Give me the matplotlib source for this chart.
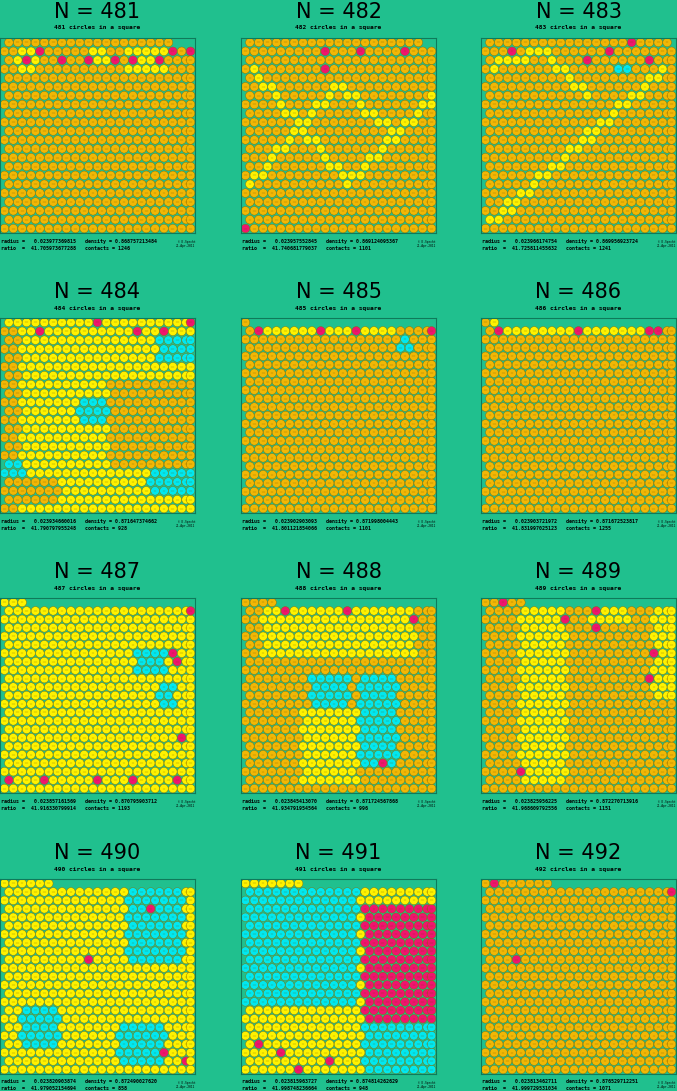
import matplotlib
matplotlib.use("Agg")
import matplotlib.pyplot as plt
from matplotlib.patches import Circle
import numpy as np

BG = '#20c08e'
ORANGE = '#f2b705'
YELLOW = '#fff200'
CYAN = '#00e8f0'
MAGENTA = '#f0146e'

counts = [481, 482, 483, 484, 485, 486, 487, 488, 489, 490, 491, 492]
radius = ['0.023977369815', '0.023957552845', '0.023966174754', '0.023934660016',
          '0.023902903093', '0.023903721972', '0.023857161569', '0.023845413070',
          '0.023825956225', '0.023820903874', '0.023815963727', '0.023813462711']
density = ['0.868757213484', '0.869124095367', '0.869956923724', '0.871647374662',
           '0.871998004443', '0.871672523817', '0.870795903712', '0.871724567868',
           '0.872270713916', '0.872490027620', '0.874814262629', '0.876529712251']
ratio = ['41.705973677288', '41.740681779037', '41.725811455632', '41.790797955248',
         '41.801121854066', '41.831997025123', '41.916330799914', '41.934791954564',
         '41.968609792556', '41.979052154694', '41.998748236664', '41.999729531034']
contacts = [1246, 1101, 1241, 928, 1101, 1255, 1193, 996, 1151, 858, 948, 1071]

# base colour and rough colour regions (x0, x1, y0, y1 in unit square, y up)
base = [ORANGE, ORANGE, ORANGE, YELLOW, ORANGE, ORANGE, YELLOW, ORANGE, ORANGE, YELLOW, YELLOW, ORANGE]
regions = [
    [(YELLOW, 0.45, 0.55, 0.86, 0.94), (YELLOW, 0.65, 0.85, 0.84, 0.95), (YELLOW, 0.08, 0.2, 0.84, 0.95)],
    [],
    [(CYAN, 0.7, 0.78, 0.8, 0.88)],
    [(ORANGE, 0.0, 0.1, 0.0, 0.95), (ORANGE, 0.55, 1.0, 0.25, 0.7), (CYAN, 0.75, 1.0, 0.1, 0.25),
     (CYAN, 0.4, 0.55, 0.45, 0.6), (CYAN, 0.0, 0.12, 0.2, 0.28), (CYAN, 0.8, 1.0, 0.75, 0.9),
     (ORANGE, 0.1, 0.3, 0.05, 0.2)],
    [(YELLOW, 0.1, 0.8, 0.9, 0.97), (CYAN, 0.8, 0.88, 0.84, 0.9)],
    [(YELLOW, 0.05, 0.9, 0.92, 0.99)],
    [(CYAN, 0.7, 0.85, 0.6, 0.72), (CYAN, 0.8, 0.9, 0.45, 0.55)],
    [(YELLOW, 0.1, 0.9, 0.7, 0.95), (CYAN, 0.35, 0.55, 0.45, 0.62), (CYAN, 0.6, 0.8, 0.15, 0.6),
     (YELLOW, 0.3, 0.6, 0.05, 0.45)],
    [(YELLOW, 0.2, 0.45, 0.05, 0.95), (YELLOW, 0.55, 0.75, 0.85, 1.0), (YELLOW, 0.88, 1.0, 0.5, 0.95)],
    [(CYAN, 0.65, 0.95, 0.55, 0.95), (CYAN, 0.1, 0.3, 0.12, 0.35), (CYAN, 0.6, 0.85, 0.05, 0.25)],
    [(CYAN, 0.0, 0.6, 0.35, 0.95), (MAGENTA, 0.62, 1.0, 0.25, 0.85), (CYAN, 0.62, 1.0, 0.0, 0.25)],
    [],
]
# yellow diagonal bands (x0, y0, x1, y1)
bands = [
    [],
    [(0.05, 0.85, 0.3, 0.55), (0.3, 0.55, 0.05, 0.25), (0.3, 0.55, 0.5, 0.75), (0.3, 0.55, 0.55, 0.25),
     (0.55, 0.25, 0.8, 0.5), (0.5, 0.75, 0.8, 0.5), (0.8, 0.5, 1.0, 0.7)],
    [(0.05, 0.05, 0.95, 0.85), (0.05, 0.85, 0.35, 0.95), (0.3, 0.95, 0.55, 0.7)],
    [], [], [], [], [], [], [], [], [],
]
# magenta circles (x, y)
spots = [
    [(0.15, 0.88), (0.22, 0.93), (0.32, 0.87), (0.47, 0.87), (0.57, 0.87), (0.67, 0.87), (0.8, 0.87),
     (0.88, 0.92), (0.98, 0.98)],
    [(0.0, 0.02), (0.45, 0.85), (0.6, 0.95), (0.85, 0.92), (0.45, 0.92)],
    [(0.15, 0.93), (0.55, 0.9), (0.65, 0.93), (0.85, 0.9), (0.78, 0.97)],
    [(0.2, 0.95), (0.5, 0.95), (0.7, 0.95), (0.85, 0.95), (0.99, 0.99)],
    [(0.1, 0.93), (0.4, 0.93), (0.6, 0.93), (0.99, 0.99)],
    [(0.1, 0.95), (0.5, 0.95), (0.85, 0.93), (0.92, 0.97)],
    [(0.05, 0.08), (0.25, 0.08), (0.5, 0.08), (0.7, 0.08), (0.9, 0.08), (0.99, 0.99), (0.9, 0.7),
     (0.92, 0.66), (0.95, 0.3)],
    [(0.55, 0.93), (0.9, 0.9), (0.72, 0.15), (0.25, 0.95)],
    [(0.1, 0.98), (0.45, 0.9), (0.58, 0.93), (0.58, 0.85), (0.88, 0.7), (0.88, 0.6), (0.2, 0.1)],
    [(0.78, 0.85), (0.45, 0.6), (0.95, 0.05), (0.85, 0.1)],
    [(0.2, 0.1), (0.3, 0.02), (0.45, 0.05), (0.1, 0.15)],
    [(0.2, 0.6), (0.05, 0.97), (0.97, 0.97)],
]


def seg_dist(px, py, a):
    x0, y0, x1, y1 = a
    v = np.array([x1 - x0, y1 - y0])
    t = np.clip(((px - x0) * v[0] + (py - y0) * v[1]) / (v @ v), 0, 1)
    return np.hypot(px - (x0 + t * v[0]), py - (y0 + t * v[1]))


fig = plt.figure(figsize=(6.77, 10.91), dpi=100, facecolor=BG)
W, H = 677.0, 1091.0
col_x = [0, 241, 481]
row_y = [38, 318, 598, 879]
side = 195

for k, n in enumerate(counts):
    r, c = divmod(k, 3)
    x0, y0 = col_x[c], row_y[r]
    ax = fig.add_axes([x0 / W, 1 - (y0 + side) / H, side / W, side / H])
    ax.set_facecolor(BG)
    ax.set_xlim(0, 1)
    ax.set_ylim(0, 1)
    ax.set_xticks([])
    ax.set_yticks([])
    for s in ax.spines.values():
        s.set_color('#0f7a5a')
        s.set_linewidth(0.8)
    rad = float(radius[k]) / (1 + 2 * float(radius[k]))
    ncol = int(round(1 / (2 * rad)))
    nrow = int(np.ceil(n / ncol))
    dy = (1 - 2 * rad) / (nrow - 1)
    dx = (1 - 2 * rad) / (ncol - 1)
    pts = []
    for j in range(nrow):
        for i in range(ncol):
            if len(pts) >= n:
                break
            off = 0.5 * dx if (j % 2 and i < ncol - 1) else 0
            pts.append((rad + i * dx + off, rad + j * dy))
    pts = np.array(pts)
    cols = []
    for cx, cy in pts:
        col = base[k]
        for b in bands[k]:
            if seg_dist(cx, cy, b) < rad * 1.1:
                col = YELLOW
        for (cc, a0, a1, b0, b1) in regions[k]:
            if a0 <= cx <= a1 and b0 <= cy <= b1:
                col = cc
        cols.append(col)
    for sx, sy in spots[k]:
        cols[int(np.argmin(np.hypot(pts[:, 0] - sx, pts[:, 1] - sy)))] = MAGENTA
    for (cx, cy), col in zip(pts, cols):
        ax.add_patch(Circle((cx, cy), rad * 0.97, facecolor=col, edgecolor='#8a6a00', lw=0.3))
        ax.plot([cx - rad * 0.3, cx + rad * 0.3], [cy, cy], color='#6a5000', lw=0.2)

    cxm = (x0 + side / 2) / W
    shift = (row_y[r] - 38) / H
    fig.text(cxm, 1 - 12 / H - shift, 'N = %d' % n, ha='center', va='center', fontsize=15)
    fig.text(cxm, 1 - 28 / H - shift, '%d circles in a square' % n,
             ha='center', va='center', fontsize=4.5, family='DejaVu Sans Mono', weight='bold')
    ty = 1 - (y0 + side + 8) / H
    fig.text(x0 / W + 0.002, ty, 'radius =   %s   density = %s' % (radius[k], density[k]),
             fontsize=3.6, family='DejaVu Sans Mono', weight='bold', va='center')
    fig.text(x0 / W + 0.002, ty - 7 / H, 'ratio  =  %s   contacts = %d' % (ratio[k], contacts[k]),
             fontsize=3.6, family='DejaVu Sans Mono', weight='bold', va='center')
    fig.text((x0 + side) / W, ty - 3 / H, '\u00a9 E.Specht\n21-Apr-2011', fontsize=2.2,
             ha='right', va='center', family='DejaVu Sans Mono')

fig.savefig('out.png', dpi=100, facecolor=BG)
